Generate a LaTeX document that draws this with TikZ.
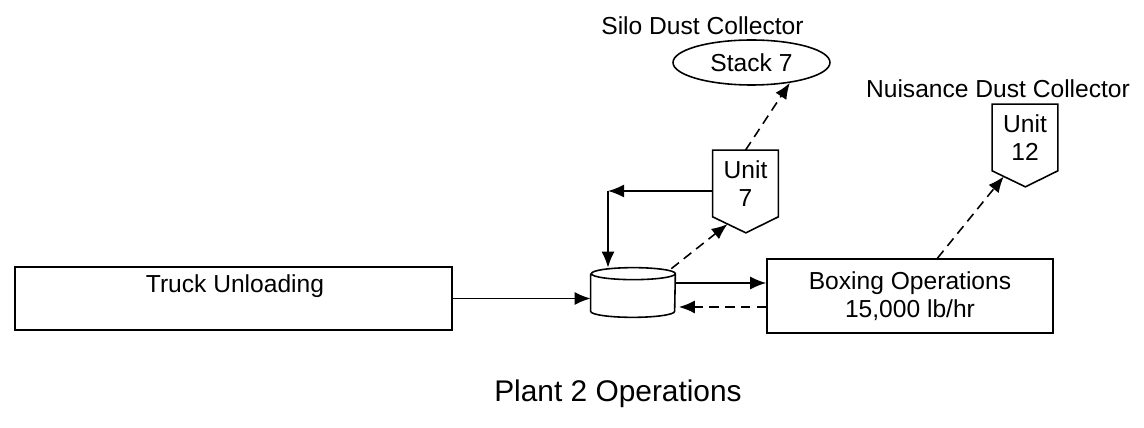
\documentclass[tikz,border=0pt]{standalone}
\usepackage{fontspec}
\setmainfont{Liberation Sans}
\usepackage{tikz}
\usetikzlibrary{arrows.meta, positioning, calc, shapes}

\tikzset{
  flowbox/.style={draw, line width=0.9pt, inner sep=0pt},
  unitbox/.style={inner sep=0pt, minimum width=1.3cm, minimum height=1.32cm, align=center},
  unitline/.style={line width=0.9pt, line join=miter},
  flow/.style={-{Latex[length=3.2mm, width=2.6mm]}, line width=0.9pt},
  dustflow/.style={flow, dash pattern=on 5.5pt off 3.5pt}
}

\begin{document}
\begin{tikzpicture}[x=0.02cm, y=-0.02cm, font=\fontsize{14}{16}\selectfont]
  \useasboundingbox (0,0) rectangle (1144,428);
  % process units
  \node[flowbox, minimum width=8.74cm, minimum height=1.26cm] (truck) at (233.5,298.5) {};
  \node (trucktxt) at (235,286) {Truck Unloading};
  \node[inner sep=0pt, minimum width=1.68cm, minimum height=0.98cm] (silo) at (633,292.5) {};
  \draw[unitline] ([yshift=-0.12cm]silo.north west) -- ([yshift=0.12cm]silo.south west)
    arc[start angle=180, end angle=360, x radius=0.84cm, y radius=0.12cm]
    -- ([yshift=-0.12cm]silo.north east)
    arc[start angle=0, end angle=180, x radius=0.84cm, y radius=0.12cm]
    arc[start angle=180, end angle=360, x radius=0.84cm, y radius=0.12cm];
  \node[flowbox, minimum width=5.72cm, minimum height=1.48cm, align=center] (box) at (910,296)
    {Boxing Operations\\15,000 lb/hr};
  % dust collectors
  \node[unitbox] (u7) at (745.5,183.5) {Unit\\7};
  \draw[unitline] (u7.north west) -- (u7.north east) -- (u7.south east)
    -- ++(-0.65cm,-0.32cm) coordinate (u7tip) -- (u7.south west) -- cycle;
  \node[unitbox] (u12) at (1025,137.5) {Unit\\12};
  \draw[unitline] (u12.north west) -- (u12.north east) -- (u12.south east)
    -- ++(-0.65cm,-0.32cm) coordinate (u12tip) -- (u12.south west) -- cycle;
  \node[draw, line width=0.9pt, ellipse, minimum width=3.14cm, minimum height=0.9cm, inner sep=0pt]
    (stack) at (751.5,62.5) {Stack 7};
  \node (silodc) at (702.5,26) {Silo Dust Collector};
  \node (nuisdc) at (998,89) {Nuisance Dust Collector};
  % material flow
  \draw[flow] (truck.east) -- (truck.east -| silo.west);
  \draw[flow] ([yshift=0.19cm]silo.east) -- ([yshift=0.19cm]silo.east -| box.west);
  \draw[dustflow] ([yshift=-0.29cm]silo.east -| box.west) -- ([yshift=-0.29cm,xshift=2pt]silo.east);
  \coordinate (turn) at (608,191);
  \draw[flow] ([yshift=-0.15cm]u7.west) -- (turn);
  \draw[flow] (turn) -- (turn |- silo.north);
  % dust flow
  \draw[dustflow] ([xshift=-0.08cm,yshift=-0.02cm]silo.north east) -- ($(u7.south west)!0.45!(u7tip)$);
  \draw[dustflow] (u7.north) -- (stack.-28);
  \draw[dustflow] (box.54) -- ($(u12.south west)!0.35!(u12tip)$);
  \node[font=\fontsize{17}{20}\selectfont] (title) at (618,394) {Plant 2 Operations};
\end{tikzpicture}
\end{document}
